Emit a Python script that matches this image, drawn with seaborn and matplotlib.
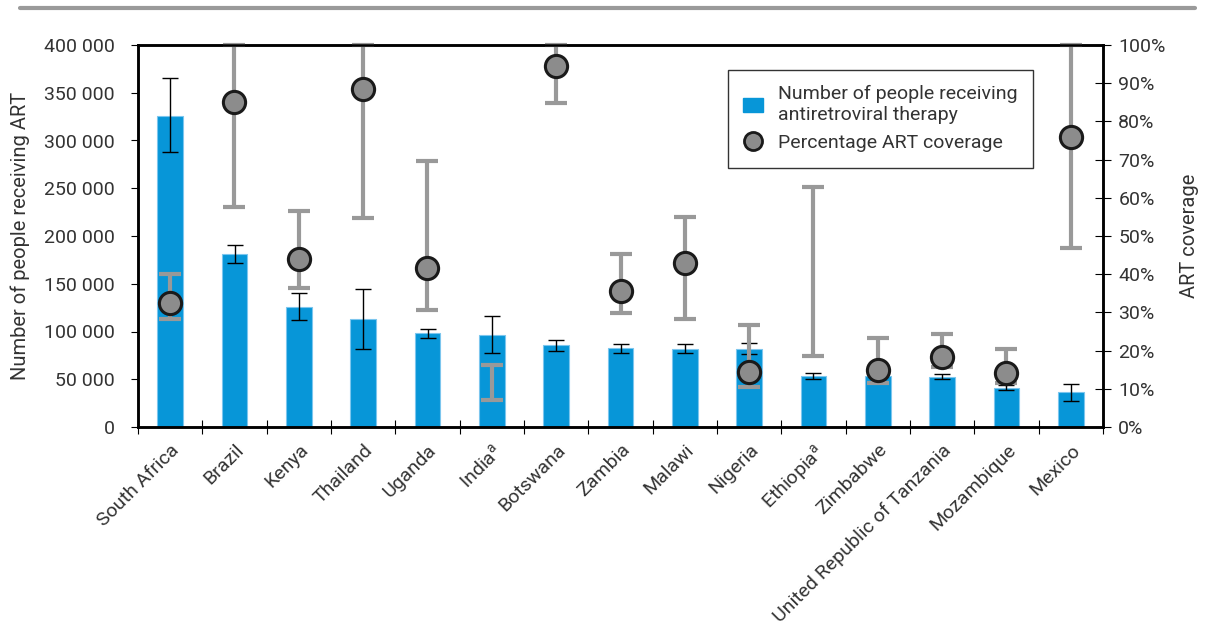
import matplotlib
matplotlib.use("Agg")
import matplotlib.pyplot as plt
import matplotlib.ticker as mticker
import matplotlib.transforms as mtransforms
from matplotlib.lines import Line2D
from matplotlib.patches import Patch
import numpy as np
import pandas as pd
import seaborn as sns

countries = ["South Africa", "Brazil", "Kenya", "Thailand", "Uganda",
             "India$^{\\mathregular{a}}$", "Botswana", "Zambia", "Malawi", "Nigeria",
             "Ethiopia$^{\\mathregular{a}}$", "Zimbabwe", "United Republic of Tanzania",
             "Mozambique", "Mexico"]
n_art = [326000, 181500, 126000, 113000, 98000, 96000, 85500, 83000, 82000, 82000,
         53500, 53500, 52500, 41000, 36500]
n_low = [288000, 172000, 112000, 82000, 93000, 77500, 79500, 78000, 78000, 76000,
         50500, 50000, 50000, 38500, 27000]
n_high = [365000, 191000, 140000, 145000, 102500, 116000, 91500, 87000, 86500, 88000,
          56500, 56000, 55000, 44000, 45500]
coverage = [32.5, 85, 44, 88.5, 41.5, np.nan, 94.5, 35.5, 43, 14.5,
            np.nan, 14.8, 18.3, 14.2, 76]
cov_low = [28.3, 57.5, 36.3, 54.6, 30.6, 7.1, 84.9, 29.8, 28.2, 10.4,
           18.7, 11.6, 15.8, 11.4, 46.8]
cov_high = [40, 100, 56.6, 100, 69.6, 16.2, 100, 45.4, 54.9, 26.6,
            62.9, 23.4, 24.3, 20.4, 100]

BLUE = "#0796d8"
GREY = "#999999"
TXT = "#333333"

sns.set_theme(style="white")
plt.rcParams["font.family"] = ["Roboto", "DejaVu Sans"]
plt.rcParams["font.weight"] = "normal"
plt.rcParams["mathtext.default"] = "regular"
plt.rcParams["text.color"] = TXT

df = pd.DataFrame({"country": countries, "n": n_art})
x = np.arange(len(countries))

fig = plt.figure(figsize=(12.07, 6.34), dpi=100)
ax = fig.add_axes([138 / 1207, 1 - 427 / 634, 965 / 1207, 382 / 634])

sns.barplot(data=df, x="country", y="n", color=BLUE, width=0.4,
            edgecolor="#7cc6ee", linewidth=0.8, saturation=1, ax=ax)
n_arr = np.array(n_art)
ax.errorbar(x, n_arr, yerr=[n_arr - np.array(n_low), np.array(n_high) - n_arr],
            fmt="none", ecolor="black", elinewidth=1, capsize=6, capthick=1, zorder=3)

ax.set_ylim(0, 400000)
ax.set_xlim(-0.5, len(countries) - 0.5)
ax.yaxis.set_major_locator(mticker.MultipleLocator(50000))
ax.yaxis.set_major_formatter(mticker.FuncFormatter(lambda v, p: f"{int(v):,}".replace(",", " ")))
ax.set_ylabel("Number of people receiving ART", fontsize=14.5, color=TXT, labelpad=10)
ax.set_xlabel("")
ax.set_xticks(x)
ax.set_xticklabels(countries, rotation=45, ha="right", rotation_mode="anchor",
                   fontsize=14, color=TXT)
shift = mtransforms.ScaledTranslation(8 / 100, 0, fig.dpi_scale_trans)
for lbl in ax.get_xticklabels():
    lbl.set_transform(lbl.get_transform() + shift)
ax.set_xticks(np.arange(-0.5, len(countries)), minor=True)
ax.tick_params(axis="x", which="major", length=0, pad=10, labelcolor=TXT)
ax.tick_params(axis="x", which="minor", length=10, width=0.8, direction="inout",
               color="black", bottom=True)
ax.tick_params(axis="y", length=5, width=0.8, direction="out", color="black",
               labelsize=14, labelcolor=TXT, left=True, pad=12)
for s in ax.spines.values():
    s.set_color("black")
    s.set_linewidth(1.8)

ax2 = ax.twinx()
cov = np.array(coverage)
low = np.array(cov_low)
high = np.array(cov_high)
mid = np.where(np.isnan(cov), (low + high) / 2, cov)
ax2.errorbar(x, mid, yerr=[mid - low, high - mid], fmt="none", ecolor=GREY,
             elinewidth=3, capsize=8, capthick=3, zorder=2, clip_on=False)
ax2.plot(x, cov, linestyle="none", marker="o", markersize=16,
         markerfacecolor="#8c8c8c", markeredgecolor="#1a1a1a", markeredgewidth=2.2,
         zorder=4, clip_on=False)
ax2.set_ylim(0, 100)
ax2.yaxis.set_major_locator(mticker.MultipleLocator(10))
ax2.yaxis.set_major_formatter(mticker.FuncFormatter(lambda v, p: f"{int(v)}%"))
ax2.tick_params(axis="y", length=12, width=0.8, direction="inout", color="black",
                labelsize=14, labelcolor=TXT, right=True, pad=5)
ax2.set_ylabel("ART coverage", fontsize=14.5, color=TXT, labelpad=10)
for s in ax2.spines.values():
    s.set_color("black")
    s.set_linewidth(1.8)

handles = [Patch(facecolor=BLUE, edgecolor=BLUE),
           Line2D([], [], linestyle="none", marker="o", markersize=13,
                  markerfacecolor="#8c8c8c", markeredgecolor="#1a1a1a", markeredgewidth=2)]
labels = ["Number of people receiving\nantiretroviral therapy", "Percentage ART coverage"]
leg = ax2.legend(handles, labels, loc="upper left", bbox_to_anchor=(0.611, 0.935),
                 borderaxespad=0, fontsize=14, frameon=True, fancybox=False,
                 handlelength=1.0, handletextpad=0.8, borderpad=0.8, labelspacing=0.5)
leg.get_frame().set_edgecolor("black")
leg.get_frame().set_linewidth(1)
for t in leg.get_texts():
    t.set_color(TXT)

fig.add_artist(Line2D([20 / 1207, 1195 / 1207], [1 - 8 / 634] * 2,
                      color="#9a9a9a", linewidth=3))

fig.savefig("out.png", dpi=100)
